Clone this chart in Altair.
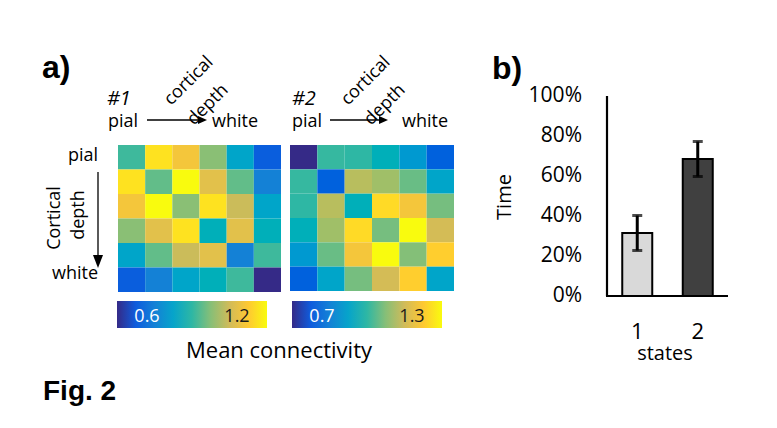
import altair as alt
import pandas as pd

# ---------------- data ----------------
depth_bins = [1, 2, 3, 4, 5, 6]

conn_1 = [
    [0.92, 1.34, 1.25, 1.03, 0.78, 0.53],
    [1.34, 0.97, 1.40, 1.20, 0.97, 0.65],
    [1.25, 1.40, 1.03, 1.34, 1.14, 0.78],
    [1.03, 1.20, 1.34, 0.84, 1.20, 0.84],
    [0.78, 0.97, 1.14, 1.20, 0.65, 0.92],
    [0.53, 0.65, 0.78, 0.84, 0.92, 0.40],
]
conn_2 = [
    [0.50, 1.01, 1.00, 0.94, 0.83, 0.64],
    [1.01, 0.64, 1.21, 1.17, 1.08, 0.88],
    [1.00, 1.21, 0.94, 1.42, 1.35, 1.10],
    [0.94, 1.17, 1.42, 1.10, 1.50, 1.26],
    [0.83, 1.08, 1.35, 1.50, 1.12, 1.39],
    [0.64, 0.88, 1.10, 1.26, 1.39, 0.88],
]
cbar_range_1 = [0.4, 1.4]
cbar_range_2 = [0.5, 1.5]
cbar_ticks_1 = [0.6, 1.2]
cbar_ticks_2 = [0.7, 1.3]

states = ["1", "2"]
time_mean = [0.315, 0.685]
time_err = [0.0875, 0.0875]
time_ticks = [0, 0.2, 0.4, 0.6, 0.8, 1.0]

# ---------------- style ----------------
PARULA = ["#352a87", "#0f5cdd", "#1481d6", "#06a4ca", "#2eb7a4",
          "#87bf77", "#d1bb59", "#fec832", "#f9fb0e"]
FONT = "Open Sans"
BOLD = "Liberation Sans"
W, H = 761, 412


def stops(lo, hi):
    n = len(PARULA) - 1
    return [lo + (hi - lo) * i / n for i in range(n + 1)]


def heat_df(m):
    return pd.DataFrame([{"row": r, "col": c, "v": m[r - 1][c - 1]}
                         for r in depth_bins for c in depth_bins])


def heatmap(m, lo, hi, xr, yr):
    return alt.Chart(heat_df(m)).mark_rect(strokeWidth=0).encode(
        x=alt.X("col:O", scale=alt.Scale(range=xr, paddingInner=0, paddingOuter=0), axis=None),
        y=alt.Y("row:O", scale=alt.Scale(range=yr, paddingInner=0, paddingOuter=0), axis=None),
        color=alt.Color("v:Q", scale=alt.Scale(domain=stops(lo, hi), range=PARULA), legend=None),
    )


def colorbar(rng, ticks, xr):
    lo, hi = rng
    grad = alt.Gradient(
        gradient="linear", x1=0, x2=1, y1=0, y2=0,
        stops=[alt.GradientStop(color=c, offset=i / (len(PARULA) - 1)) for i, c in enumerate(PARULA)],
    )
    xs = alt.Scale(domain=[lo, hi], range=xr, nice=False, zero=False)
    bar = alt.Chart(pd.DataFrame({"lo": [lo], "hi": [hi]})).mark_rect(fill=grad, strokeWidth=0).encode(
        x=alt.X("lo:Q", scale=xs, axis=None), x2="hi:Q",
        y=alt.value(293), y2=alt.value(320),
    )
    lab = alt.Chart(pd.DataFrame({"t": ticks})).mark_text(
        font=FONT, fontSize=18, baseline="alphabetic", align="center").encode(
        x=alt.X("t:Q", scale=xs, axis=None),
        y=alt.value(314),
        text=alt.Text("t:Q", format=".1f"),
        color=alt.condition(alt.datum.t < (lo + hi) / 2, alt.value("white"), alt.value("#1a1a1a")),
    )
    return alt.layer(bar, lab)


def txt(s, x, y, size=18, angle=0, align="left", baseline="alphabetic",
        weight="normal", style="normal", font=FONT):
    kw = dict(font=font, fontSize=size, align=align, baseline=baseline,
              fontWeight=weight, fontStyle=style, color="black")
    if angle:
        kw["angle"] = angle
    return alt.Chart(pd.DataFrame({"s": [s]})).mark_text(**kw).encode(
        text="s:N", x=alt.value(x), y=alt.value(y))


def hline(x1, x2, y, w=1.3):
    return alt.Chart(pd.DataFrame({"a": [0]})).mark_rule(color="black", strokeWidth=w).encode(
        x=alt.value(x1), x2=alt.value(x2), y=alt.value(y))


def vline(x, y1, y2, w=1.3):
    return alt.Chart(pd.DataFrame({"a": [0]})).mark_rule(color="black", strokeWidth=w).encode(
        x=alt.value(x), y=alt.value(y1), y2=alt.value(y2))


def head(x, y, path, size):
    return alt.Chart(pd.DataFrame({"a": [0]})).mark_point(
        shape=path, size=size, filled=True, color="black", opacity=1, strokeWidth=0).encode(
        x=alt.value(x), y=alt.value(y))


RIGHT = "M-1,-0.9L1,0L-1,0.9Z"
DOWN = "M-0.77,-1L0.77,-1L0,1Z"

# ---------------- bar chart ----------------
bdf = pd.DataFrame({
    "state": states,
    "m": time_mean,
    "lo": [m - e for m, e in zip(time_mean, time_err)],
    "hi": [m + e for m, e in zip(time_mean, time_err)],
})
X0, X1 = 599, 720          # x-axis pixel span of panel b
Y0, Y1 = 288, 88           # y-axis pixel span of panel b
xb = alt.Scale(domain=states, range=[X0, X1], paddingInner=0, paddingOuter=0)
yb = alt.Scale(domain=[0, 1], range=[Y0, Y1], nice=False, zero=False)

bars = alt.Chart(bdf).mark_bar(size=30, stroke="black", strokeWidth=2).encode(
    x=alt.X("state:N", scale=xb, axis=None),
    y=alt.Y("m:Q", scale=yb, axis=None),
    fill=alt.Fill("state:N", scale=alt.Scale(domain=states, range=["#d9d9d9", "#404040"]), legend=None),
)
err = alt.Chart(bdf).mark_rule(color="black", strokeWidth=3).encode(
    x=alt.X("state:N", scale=xb, axis=None),
    y=alt.Y("lo:Q", scale=yb, axis=None), y2="hi:Q",
)
cap_lo = alt.Chart(bdf).mark_tick(color="black", size=10, thickness=3).encode(
    x=alt.X("state:N", scale=xb, axis=None),
    y=alt.Y("lo:Q", scale=yb, axis=None),
)
cap_hi = alt.Chart(bdf).mark_tick(color="black", size=10, thickness=3).encode(
    x=alt.X("state:N", scale=xb, axis=None),
    y=alt.Y("hi:Q", scale=yb, axis=None),
)
# y axis: domain line + percent labels placed through the y scale
tick_df = pd.DataFrame({"t": time_ticks})
y_dom = alt.Chart(pd.DataFrame({"a": [0], "b": [1]})).mark_rule(color="black", strokeWidth=2.2).encode(
    x=alt.value(X0), y=alt.Y("a:Q", scale=yb, axis=None), y2="b:Q")
y_lab = alt.Chart(tick_df).mark_text(font=FONT, fontSize=21, align="right", baseline="middle",
                                     color="black").encode(
    x=alt.value(X0 - 25), y=alt.Y("t:Q", scale=yb, axis=None), text=alt.Text("t:Q", format=".0%"))
# x axis: baseline + category labels placed through the x scale
x_dom = alt.Chart(pd.DataFrame({"a": [0]})).mark_rule(color="black", strokeWidth=2.2).encode(
    x=alt.value(X0 - 1), x2=alt.value(X1), y=alt.Y("a:Q", scale=yb, axis=None))
x_lab = alt.Chart(bdf).mark_text(font=FONT, fontSize=22, align="center", baseline="alphabetic",
                                 color="black").encode(
    x=alt.X("state:N", scale=xb, axis=None), y=alt.value(331), text="state:N")

bar_panel = alt.layer(bars, err, cap_lo, cap_hi, y_dom, x_dom, y_lab, x_lab)

# ---------------- assemble ----------------
layers = [
    heatmap(conn_1, *cbar_range_1, [110, 273], [137, 284]),
    heatmap(conn_2, *cbar_range_2, [282, 446], [137, 283]),
    colorbar(cbar_range_1, cbar_ticks_1, [109, 259]),
    colorbar(cbar_range_2, cbar_ticks_2, [284, 434]),
    txt("Mean connectivity", 271, 350, size=22, align="center"),
    # panel a annotations
    txt("a)", 34, 70, size=32, weight="bold", font=BOLD),
    txt("b)", 484, 71, size=32, weight="bold", font=BOLD),
    txt("Fig. 2", 35, 392, size=28, weight="bold", font=BOLD),
    txt("#1", 99, 97, size=20, style="italic"),
    txt("#2", 284, 97, size=20, style="italic"),
    txt("pial", 100, 119),
    txt("white", 204, 119),
    txt("pial", 284, 119),
    txt("white", 394, 119),
    txt("cortical", 181, 73, angle=315, align="center", baseline="middle"),
    txt("depth", 200, 97, angle=315, align="center", baseline="middle"),
    txt("cortical", 358, 73, angle=315, align="center", baseline="middle"),
    txt("depth", 377, 97, angle=315, align="center", baseline="middle"),
    hline(139, 191, 112), head(194.5, 112, RIGHT, 81),
    hline(322, 372, 112), head(375.5, 112, RIGHT, 81),
    txt("pial", 90, 153, align="right"),
    txt("white", 90, 271, align="right"),
    txt("Cortical", 47, 210, angle=270, align="center", baseline="middle"),
    txt("depth", 71, 207, angle=270, align="center", baseline="middle"),
    vline(90, 164, 249), head(90, 253.5, DOWN, 169),
    # panel b
    bar_panel,
    txt("Time", 497, 189, size=20, angle=270, align="center", baseline="middle"),
    txt("states", 657, 352, size=20, align="center"),
]

chart = alt.layer(*layers).resolve_scale(
    x="independent", y="independent", color="independent", fill="independent"
).properties(
    width=W, height=H, padding=0, background="white",
    autosize=alt.AutoSizeParams(type="none"),
).configure_view(stroke=None)

chart.save("out.html", embed_options={"renderer": "svg", "actions": False})
